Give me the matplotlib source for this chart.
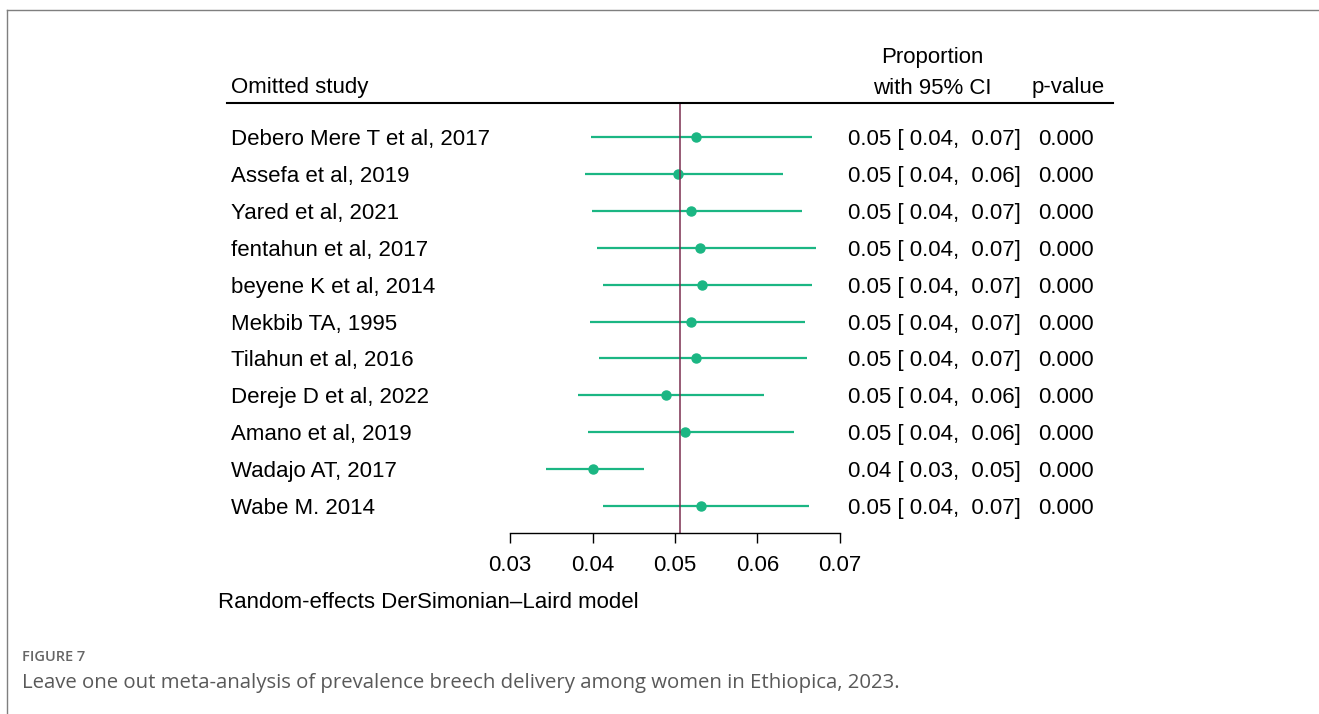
import matplotlib
matplotlib.use("Agg")
import matplotlib.pyplot as plt
from matplotlib.lines import Line2D
from matplotlib.transforms import blended_transform_factory, offset_copy

# data
studies = [
    "Debero Mere T et al, 2017",
    "Assefa et al, 2019",
    "Yared et al, 2021",
    "fentahun et al, 2017",
    "beyene K et al, 2014",
    "Mekbib TA, 1995",
    "Tilahun et al, 2016",
    "Dereje D et al, 2022",
    "Amano et al, 2019",
    "Wadajo AT, 2017",
    "Wabe M. 2014",
]
est = [0.0525, 0.0504, 0.0519, 0.0530, 0.0533, 0.0520, 0.0526, 0.0489, 0.0512, 0.0401, 0.0531]
lower = [0.0398, 0.0391, 0.0399, 0.0405, 0.0413, 0.0397, 0.0408, 0.0383, 0.0394, 0.0344, 0.0413]
upper = [0.0666, 0.0631, 0.0654, 0.0671, 0.0666, 0.0657, 0.0660, 0.0608, 0.0644, 0.0462, 0.0663]
pvals = ["0.000"] * 11
overall = 0.0506
xticks = [0.03, 0.04, 0.05, 0.06, 0.07]

W, H = 1319, 714
green = "#1bb683"
fs = 16
plt.rcParams["font.family"] = ["Liberation Sans", "DejaVu Sans"]

fig = plt.figure(figsize=(W / 100, H / 100), dpi=100)

def fx(px):
    return px / W

def fy(py):
    return 1 - py / H

ax = fig.add_axes([fx(510), fy(533), fx(840) - fx(510), (533 - 103) / H])

rows = list(range(1, len(studies) + 1))
ax.hlines(rows, lower, upper, color=green, lw=1.6)
ax.plot(est, rows, "o", color=green, ms=6.5)
ax.axvline(overall, color="#7a2e4f", lw=1.1)

ax.set_xlim(0.03, 0.07)
ax.set_ylim(11.73, 0.08)
ax.set_yticks([])
ax.set_xticks(xticks)
ax.set_xticklabels([f"{t:.2f}" for t in xticks], fontsize=fs)
ax.tick_params(axis="x", direction="out", length=7, width=1, pad=9)
for s in ["top", "left", "right"]:
    ax.spines[s].set_visible(False)
ax.spines["bottom"].set_linewidth(1)
ax.patch.set_alpha(0)

# row labels sit a little below the CI lines
tr = offset_copy(blended_transform_factory(fig.transFigure, ax.transData),
                 fig=fig, y=-2.5, units="dots")
for i, r in enumerate(rows):
    ax.text(fx(231), r, studies[i], transform=tr, fontsize=fs, va="center", ha="left")
    ax.text(fx(848), r, f"{est[i]:.2f} [ {lower[i]:.2f},  {upper[i]:.2f}]",
            transform=tr, fontsize=fs, va="center", ha="left")
    ax.text(fx(1066), r, pvals[i], transform=tr, fontsize=fs, va="center", ha="center")

# header
fig.text(fx(231), fy(88), "Omitted study", fontsize=fs, va="center", ha="left")
fig.text(fx(932), fy(58), "Proportion", fontsize=fs, va="center", ha="center")
fig.text(fx(932), fy(88), "with 95% CI", fontsize=fs, va="center", ha="center")
fig.text(fx(1068), fy(88), "p-value", fontsize=fs, va="center", ha="center")
fig.add_artist(Line2D([fx(227), fx(1113)], [fy(103), fy(103)], color="black", lw=1.5))

fig.text(fx(218), fy(603), "Random-effects DerSimonian\u2013Laird model", fontsize=fs,
         va="center", ha="left")

# caption
fig.text(fx(22), fy(657), "FIGURE 7", fontsize=10.5, color="#666666", va="center",
         ha="left", family=["Open Sans", "DejaVu Sans"], weight="semibold")
fig.text(fx(22), fy(683),
         "Leave one out meta-analysis of prevalence breech delivery among women in Ethiopica, 2023.",
         fontsize=14.7, color="#595959", va="center", ha="left", family=["Open Sans", "DejaVu Sans"])

# frame around the figure panel
fig.add_artist(Line2D([fx(7), 1], [fy(10), fy(10)], color="#7f7f7f", lw=1))
fig.add_artist(Line2D([fx(7), fx(7)], [0, fy(10)], color="#7f7f7f", lw=1))

fig.savefig("out.png", dpi=100)
